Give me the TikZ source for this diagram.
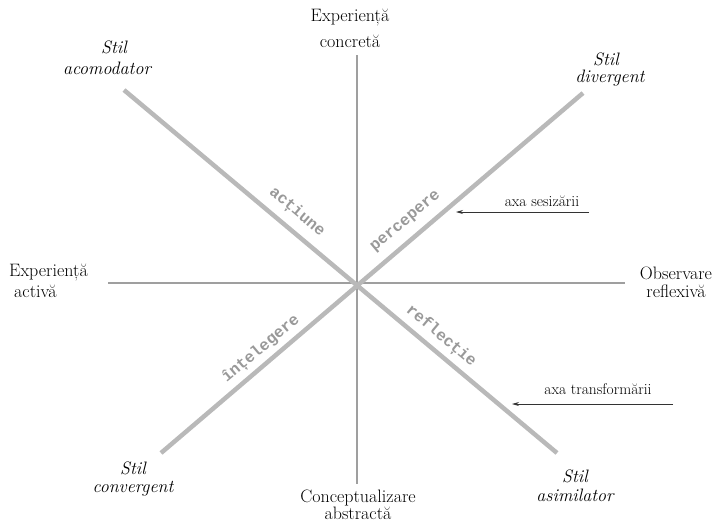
\documentclass[tikz,border=0pt]{standalone}
\usepackage{fontspec}
\newfontfamily\monof{Liberation Mono}
\usetikzlibrary{arrows.meta}
\tikzset{
  axisline/.style={draw=gray!75, line width=1.2pt},
  diagline/.style={draw=gray!55, line width=4.5pt},
  lab/.style={font=\fontsize{18}{20}\selectfont, inner sep=0pt},
  stil/.style={font=\fontsize{18}{20}\selectfont\itshape, inner sep=0pt},
  diaglab/.style={font=\monof\bfseries\fontsize{16}{16}\selectfont, text=gray!80, inner sep=0pt},
  ptr/.style={draw=black!80, line width=0.8pt, -{Stealth[length=7pt,width=4pt]}}
}
\begin{document}
\begin{tikzpicture}[x=1pt,y=-1pt]
\useasboundingbox (0,0) rectangle (717,523);
% axis endpoints
\coordinate (vt) at (357,55);
\coordinate (vb) at (357,484);
\coordinate (hl) at (108,283);
\coordinate (hr) at (625,283);
\coordinate (acE) at (124,90);
\coordinate (asE) at (557,453);
\coordinate (diE) at (583,93);
\coordinate (coE) at (161,453);
% lines
\draw[axisline] (vt) -- (vb);
\draw[axisline] (hl) -- (hr);
\draw[diagline] (acE) -- (asE);
\draw[diagline] (diE) -- (coE);
% pole labels
\node[lab] (ec1) at (350,18) {Experiență};
\node[lab] (ec2) at (350,41) {concretă};
\node[lab, anchor=west] (ea1) at (9,273) {Experiență};
\node[lab, anchor=west] (ea2) at (14,291) {activă};
\node[lab] (or1) at (676,273) {Observare};
\node[lab] (or2) at (676,291) {reflexivă};
\node[lab] (ca1) at (358,498) {Conceptualizare};
\node[lab] (ca2) at (358,513) {abstractă};
% style labels
\node[stil] (sa1) at (114,47) {Stil};
\node[stil] (sa2) at (107,68) {acomodator};
\node[stil] (sd1) at (606,59) {Stil};
\node[stil] (sd2) at (610,78) {divergent};
\node[stil] (sc1) at (133,468) {Stil};
\node[stil] (sc2) at (133,489) {convergent};
\node[stil] (ss1) at (575,476) {Stil};
\node[stil] (ss2) at (575,495) {asimilator};
% diagonal labels
\node[diaglab, rotate=-40] (act) at (297,212) {acțiune};
\node[diaglab, rotate=40] (per) at (406,222) {percepere};
\node[diaglab, rotate=-40] (ref) at (441,336) {reflecție};
\node[diaglab, rotate=40] (int) at (261,349) {înțelegere};
% pointers
\node[lab, font=\fontsize{15.5}{16}\selectfont] (axs) at (542,201) {axa sesizării};
\coordinate (axsA) at (589,212);
\coordinate (axsB) at (456,212);
\draw[ptr] (axsA) -- (axsB);
\node[lab, font=\fontsize{15.5}{16}\selectfont] (axt) at (598,389) {axa transformării};
\coordinate (axtA) at (673,404);
\coordinate (axtB) at (512,404);
\draw[ptr] (axtA) -- (axtB);
\end{tikzpicture}
\end{document}
